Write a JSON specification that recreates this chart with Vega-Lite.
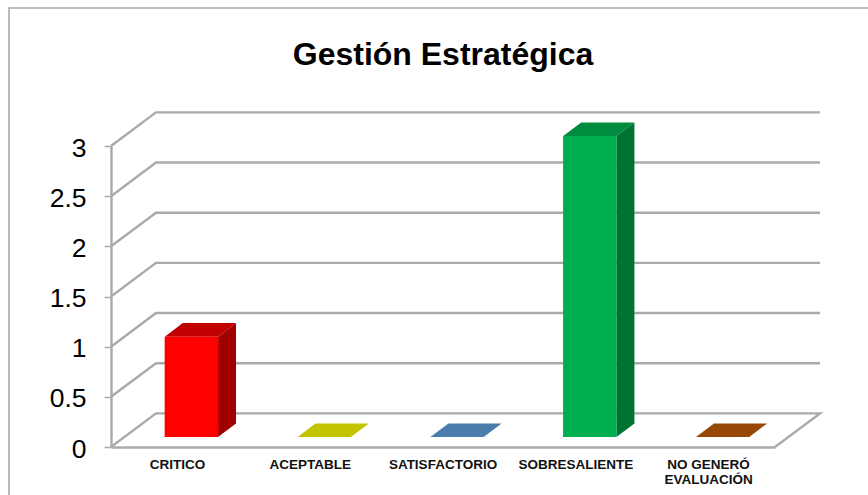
{
  "$schema": "https://vega.github.io/schema/vega-lite/v6.json",
  "autosize": "none",
  "padding": {"left": 111, "top": 146, "right": 93, "bottom": 48},
  "width": 664,
  "height": 301,
  "background": "white",
  "title": {"text": "Gestión Estratégica", "anchor": "middle", "frame": "group", "font": "Liberation Sans", "fontSize": 32, "fontWeight": "bold", "color": "#000000", "offset": -65},
  "config": {"view": {"stroke": null}, "font": "Liberation Sans"},
  "data": {"values": [
    {"category": "CRITICO", "value": 1},
    {"category": "ACEPTABLE", "value": 0},
    {"category": "SATISFACTORIO", "value": 0},
    {"category": "SOBRESALIENTE", "value": 3},
    {"category": "NO GENERÓ EVALUACIÓN", "value": 0}
  ]},
  "transform": [
    {"calculate": "indexof(['CRITICO','ACEPTABLE','SATISFACTORIO','SOBRESALIENTE','NO GENERÓ EVALUACIÓN'], datum.category)", "as": "i"}
  ],
  "resolve": {"scale": {"x": "independent", "color": "independent"}, "axis": {"x": "independent"}},
  "layer": [
    {
      "data": {"values": [{"frame": "outer"}]},
      "transform": [],
      "mark": {"type": "rect", "fill": null, "stroke": "#a9a9a9", "strokeWidth": 1.6},
      "encoding": {
        "x": {"datum": -0.768, "type": "quantitative", "scale": {"domain": [0, 5], "nice": false, "zero": false}, "axis": null},
        "x2": {"datum": 6},
        "y": {"datum": 4.375, "type": "quantitative"},
        "y2": {"datum": -1}
      }
    },
    {
      "data": {"values": [{"level": 0}, {"level": 0.5}, {"level": 1}, {"level": 1.5}, {"level": 2}, {"level": 2.5}, {"level": 3}]},
      "transform": [
        {"calculate": "[0,1,2,3]", "as": "p"},
        {"flatten": ["p"]},
        {"filter": "datum.p < 3 || datum.level == 0"},
        {"calculate": "datum.p == 0 ? 0 : datum.p == 1 ? 0.339 : datum.p == 2 ? 5.339 : 5", "as": "gx"},
        {"calculate": "datum.level + (datum.p == 0 || datum.p == 3 ? 0 : 0.335)", "as": "gy"}
      ],
      "mark": {"type": "line", "stroke": "#aaaaaa", "strokeWidth": 2.4, "interpolate": "linear"},
      "encoding": {
        "x": {"field": "gx", "type": "quantitative", "scale": {"domain": [0, 5], "nice": false, "zero": false}, "axis": null},
        "y": {"field": "gy", "type": "quantitative"},
        "detail": {"field": "level"},
        "order": {"field": "p"}
      }
    },
    {
      "transform": [
        {"calculate": "[0,1]", "as": "p"},
        {"flatten": ["p"]},
        {"calculate": "datum.i + 0.806 + datum.p * 0.1355", "as": "sx"},
        {"calculate": "0.1 + datum.p * 0.135", "as": "sy"},
        {"calculate": "datum.value + 0.1 + datum.p * 0.135", "as": "sy2"}
      ],
      "mark": {"type": "area", "orient": "vertical", "interpolate": "linear"},
      "encoding": {
        "x": {"field": "sx", "type": "quantitative", "scale": {"domain": [0, 5], "nice": false, "zero": false}, "axis": null},
        "y": {"field": "sy", "type": "quantitative"},
        "y2": {"field": "sy2"},
        "detail": {"field": "category"},
        "color": {"field": "category", "type": "nominal", "legend": null,
          "scale": {"domain": ["CRITICO", "ACEPTABLE", "SATISFACTORIO", "SOBRESALIENTE", "NO GENERÓ EVALUACIÓN"], "range": ["#a00000", "#8f8f00", "#35597a", "#007232", "#6f3404"]}}
      }
    },
    {
      "transform": [
        {"calculate": "[0,1]", "as": "p"},
        {"flatten": ["p"]},
        {"calculate": "datum.i + 0.405 + datum.p * 0.1355", "as": "tx"},
        {"calculate": "datum.i + 0.806 + datum.p * 0.1355", "as": "tx2"},
        {"calculate": "datum.value + 0.1 + datum.p * 0.135", "as": "ty"}
      ],
      "mark": {"type": "area", "orient": "horizontal", "interpolate": "linear"},
      "encoding": {
        "x": {"field": "tx", "type": "quantitative", "scale": {"domain": [0, 5], "nice": false, "zero": false}, "axis": null},
        "x2": {"field": "tx2"},
        "y": {"field": "ty", "type": "quantitative"},
        "detail": {"field": "category"},
        "color": {"field": "category", "type": "nominal", "legend": null,
          "scale": {"domain": ["CRITICO", "ACEPTABLE", "SATISFACTORIO", "SOBRESALIENTE", "NO GENERÓ EVALUACIÓN"], "range": ["#c00000", "#c3c300", "#4a7dab", "#008c3f", "#974706"]}}
      }
    },
    {
      "mark": {"type": "bar", "width": 53.5, "xOffset": 14, "yOffset": -10, "y2Offset": -10},
      "encoding": {
        "x": {"field": "category", "type": "nominal", "sort": null,
          "scale": {"paddingInner": 0, "paddingOuter": 0},
          "axis": {"title": null, "labelAngle": 0, "labelFont": "Liberation Sans", "labelFontSize": 13.5, "labelFontWeight": "bold", "labelColor": "#111111", "labelPadding": 10, "labelLineHeight": 15, "labelLimit": 200, "labelExpr": "datum.value == 'NO GENERÓ EVALUACIÓN' ? ['NO GENERÓ', 'EVALUACIÓN'] : datum.label", "ticks": false, "domainColor": "#aaaaaa", "domainWidth": 2.4, "grid": false}},
        "y": {"field": "value", "type": "quantitative",
          "scale": {"domain": [0, 3], "nice": false, "zero": true},
          "axis": {"title": null, "values": [0, 0.5, 1, 1.5, 2, 2.5, 3], "format": "~g", "labelFont": "Liberation Sans", "labelFontSize": 26.5, "labelColor": "#000000", "labelPadding": 18, "labelOverlap": false, "labelOffset": 2, "tickSize": 7, "tickColor": "#a9a9a9", "tickWidth": 1.5, "domainColor": "#aaaaaa", "domainWidth": 2.4, "grid": false}},
        "color": {"field": "category", "type": "nominal", "legend": null,
          "scale": {"domain": ["CRITICO", "ACEPTABLE", "SATISFACTORIO", "SOBRESALIENTE", "NO GENERÓ EVALUACIÓN"], "range": ["#ff0000", "#c3c300", "#4a7dab", "#00b050", "#974706"]}}
      }
    }
  ]
}
